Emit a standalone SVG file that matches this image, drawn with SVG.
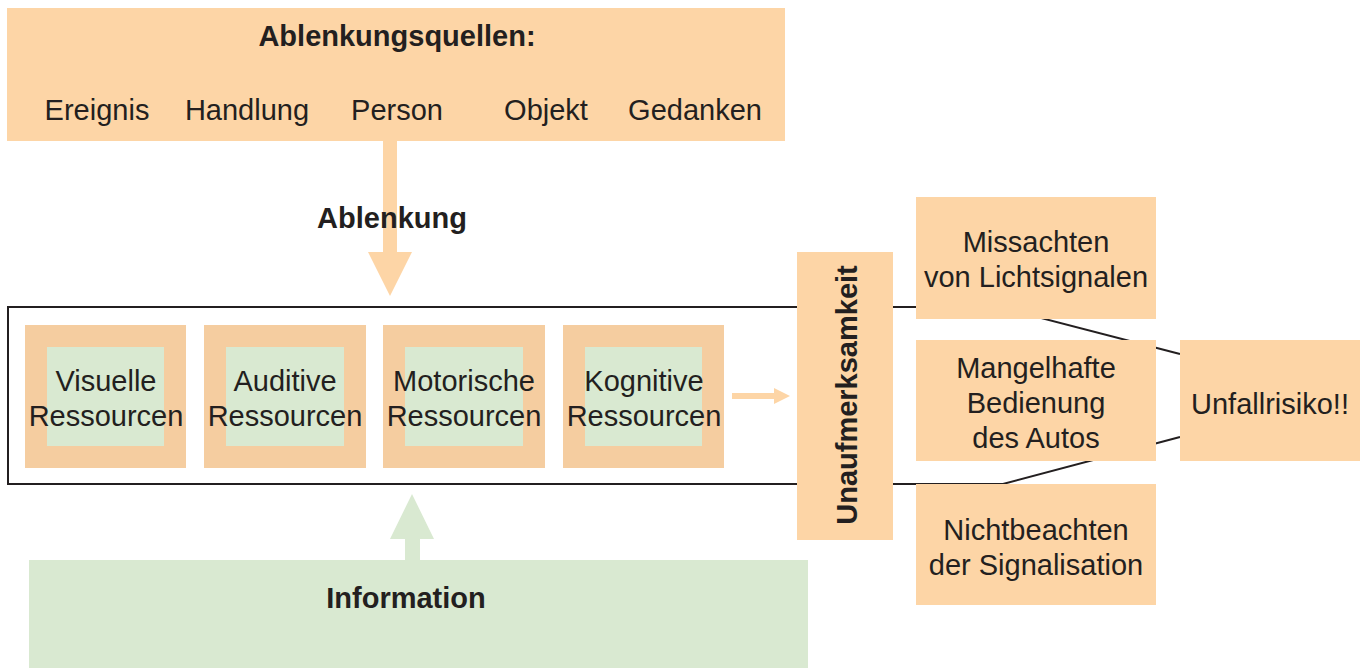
<svg xmlns="http://www.w3.org/2000/svg" width="1365" height="668" viewBox="0 0 1365 668">
<style>
.t{font-family:"Liberation Sans",Arial,sans-serif;font-size:29px;fill:#231F20;text-anchor:middle}
.b{font-weight:bold}
.peach{fill:#FDD5A6}
.tan{fill:#F5CDA0}
.green{fill:#D9E9D1}
.ln{stroke:#231F20;stroke-width:2;fill:none}
</style>
<rect width="1365" height="668" fill="#FFFFFF"/>
<g id="connectors">
<polyline class="ln" points="999,307 8,307 8,484 1003,484 1180,437"/>
<line class="ln" x1="999" y1="307" x2="1180" y2="354"/>
<polygon class="peach" points="383,141 397,141 397,252 412,252 390,296 368,252 383,252"/>
<polygon class="green" points="405,560 420,560 420,539 434,539 412,494 390,539 405,539"/>
<polygon class="peach" points="732,393 774,393 774,388 790,396 774,404 774,399 732,399"/>
</g>
<g id="quellen">
<rect class="peach" x="7" y="8" width="778" height="133"/>
<text class="t b" x="397" y="46">Ablenkungsquellen:</text>
<text class="t" x="97" y="120">Ereignis</text>
<text class="t" x="247" y="120">Handlung</text>
<text class="t" x="397" y="120">Person</text>
<text class="t" x="546" y="120">Objekt</text>
<text class="t" x="695" y="120">Gedanken</text>
</g>
<g id="ablenkung"><text class="t b" x="392" y="228">Ablenkung</text></g>
<g id="visuelle">
<rect class="tan" x="25" y="325" width="161" height="143"/>
<rect class="green" x="47" y="347" width="117" height="99"/>
<text class="t" x="106" y="391">Visuelle</text>
<text class="t" x="106" y="426">Ressourcen</text>
</g>
<g id="auditive">
<rect class="tan" x="204" y="325" width="162" height="143"/>
<rect class="green" x="226" y="347" width="118" height="99"/>
<text class="t" x="285" y="391">Auditive</text>
<text class="t" x="285" y="426">Ressourcen</text>
</g>
<g id="motorische">
<rect class="tan" x="383" y="325" width="162" height="143"/>
<rect class="green" x="405" y="347" width="118" height="99"/>
<text class="t" x="464" y="391">Motorische</text>
<text class="t" x="464" y="426">Ressourcen</text>
</g>
<g id="kognitive">
<rect class="tan" x="563" y="325" width="161" height="143"/>
<rect class="green" x="585" y="347" width="117" height="99"/>
<text class="t" x="644" y="391">Kognitive</text>
<text class="t" x="644" y="426">Ressourcen</text>
</g>
<g id="unaufmerksamkeit">
<rect class="peach" x="797" y="252" width="96" height="288"/>
<text class="t b" transform="translate(857,395) rotate(-90)">Unaufmerksamkeit</text>
</g>
<g id="missachten">
<rect class="peach" x="916" y="197" width="240" height="122"/>
<text class="t" x="1036" y="252">Missachten</text>
<text class="t" x="1036" y="287">von Lichtsignalen</text>
</g>
<g id="mangelhafte">
<rect class="peach" x="916" y="340" width="240" height="121"/>
<text class="t" x="1036" y="378">Mangelhafte</text>
<text class="t" x="1036" y="413">Bedienung</text>
<text class="t" x="1036" y="448">des Autos</text>
</g>
<g id="nichtbeachten">
<rect class="peach" x="916" y="484" width="240" height="121"/>
<text class="t" x="1036" y="540">Nichtbeachten</text>
<text class="t" x="1036" y="575">der Signalisation</text>
</g>
<g id="unfallrisiko">
<rect class="peach" x="1180" y="340" width="180" height="121"/>
<text class="t" x="1270" y="414">Unfallrisiko!!</text>
</g>
<g id="information">
<rect class="green" x="29" y="560" width="779" height="108"/>
<text class="t b" x="406" y="608">Information</text>
</g>
</svg>
